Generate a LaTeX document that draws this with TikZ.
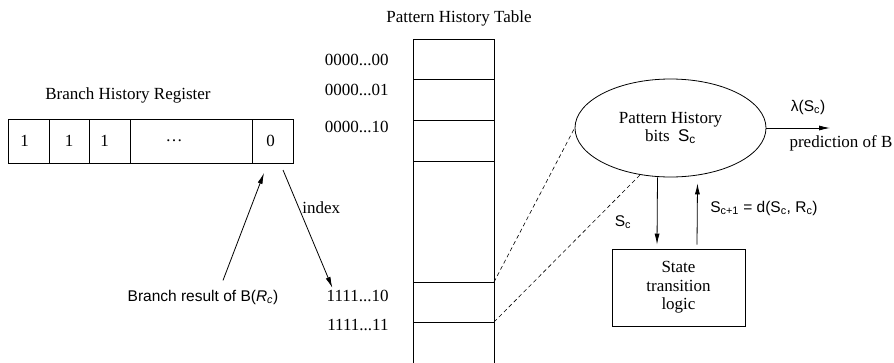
\documentclass[tikz,border=0pt]{standalone}
\usepackage{fontspec}
\setmainfont{Liberation Serif}
\setsansfont{Liberation Sans}
\usepackage{xcolor}
\usepackage{tikz}
\usetikzlibrary{arrows.meta,positioning,shapes.geometric}

\begin{document}
\begin{tikzpicture}[x=1pt,y=-1pt,font=\fontsize{17}{18}\selectfont,line width=0.8pt]
			\tikzstyle{txt} = [inner sep=0pt]
			\tikzstyle{sftxt} = [inner sep=0pt, font=\fontsize{15.5}{17}\selectfont\sffamily]
			\tikzstyle{regcell} = [draw, minimum height=44pt, inner sep=0pt, outer sep=0pt]
			\tikzstyle{tabrow} = [draw, minimum width=81pt, inner sep=0pt, outer sep=0pt]
			\tikzstyle{dashedge} = [dash pattern=on 4pt off 3pt, line width=0.6pt]
			\tikzset{edge/.style = {-{Latex[length=11pt,width=5pt]}}}
			
			\useasboundingbox (0,0) rectangle (894,362);
			
			% branch history register
			\node[txt](bhrtitle) at (128,95) {Branch History Register};
			\node[regcell, minimum width=41pt](c1) at (28.5,141) {1\hspace*{8pt}};
			\node[regcell, minimum width=40pt, right=0pt of c1](c2) {1};
			\node[regcell, minimum width=41pt, right=0pt of c2](c3) {1\hspace*{10pt}};
			\node[regcell, minimum width=122pt, right=0pt of c3](cdots) {\dots\hspace*{34pt}};
			\node[regcell, minimum width=41pt, right=0pt of cdots](c0) {0\hspace*{4pt}};
			
			% pattern history table
			\node[txt](phttitle) at (459,18) {Pattern History Table};
			\node[tabrow, minimum height=40pt](r00) at (453.5,59) {};
			\node[tabrow, minimum height=41pt, below=0pt of r00](r01) {};
			\node[tabrow, minimum height=41pt, below=0pt of r01](r10) {};
			\node[tabrow, minimum height=121pt, below=0pt of r10](rgap) {};
			\node[tabrow, minimum height=40pt, below=0pt of rgap](r110) {};
			\node[tabrow, minimum height=48pt, below=0pt of r110](r111) {};
			
			\node[txt, anchor=east](n00) at (389,60) {0000...00};
			\node[txt, anchor=east](n01) at (389,90) {0000...01};
			\node[txt, anchor=east](n10) at (389,127) {0000...10};
			\node[txt, anchor=east](n110) at (389,296) {1111...10};
			\node[txt, anchor=east](n111) at (389,325) {1111...11};
			
			\node[sftxt](res) at (203,297) {Branch result of B(\textit{R}\textsubscript{\textit{c}})};
			\draw[edge]([xshift=20pt,yshift=9pt]res.north) to ([xshift=-8.5pt,yshift=-10pt]c0.south);
			
			\node[txt, anchor=west](idx) at (302,208) {index};
			\draw[edge]([xshift=10.5pt,yshift=-7pt]c0.south) to ([xshift=6pt,yshift=2pt]n110.north west);
			
			% pattern history bits and state logic
			\node[ellipse, draw, minimum width=191pt, minimum height=98pt, inner sep=0pt, align=center](phb) at (670.5,128) {Pattern History\\bits~~\textsf{S\textsubscript{c}}};
			\draw[dashedge](r110.north east) to (phb.west);
			\draw[dashedge](r111.north east) to (phb.237);
			
			\coordinate (pred) at (830,128);
			\draw[edge](phb.east) to (pred);
			\node[sftxt](lam) at (808,107) {λ(S\textsubscript{c})};
			\node[txt](predtxt) at (841,143) {prediction of B};
			
			\node[draw, minimum width=133pt, minimum height=77pt, align=center, font=\fontsize{17}{18.5}\selectfont](logic) at (678.5,287.5) {State\\transition\\logic};
			\draw[edge]([xshift=-13pt]phb.south) to ([xshift=-21.5pt,yshift=4pt]logic.north);
			\draw[edge]([xshift=18.5pt,yshift=4pt]logic.north) to ([xshift=27pt,yshift=-6pt]phb.south);
			
			\node[sftxt](sc) at (623,222) {S\textsubscript{c}};
			\node[sftxt](scnext) at (764,208) {S\textsubscript{c+1} = d(S\textsubscript{c}, R\textsubscript{c})};
			
\end{tikzpicture}
\end{document}
